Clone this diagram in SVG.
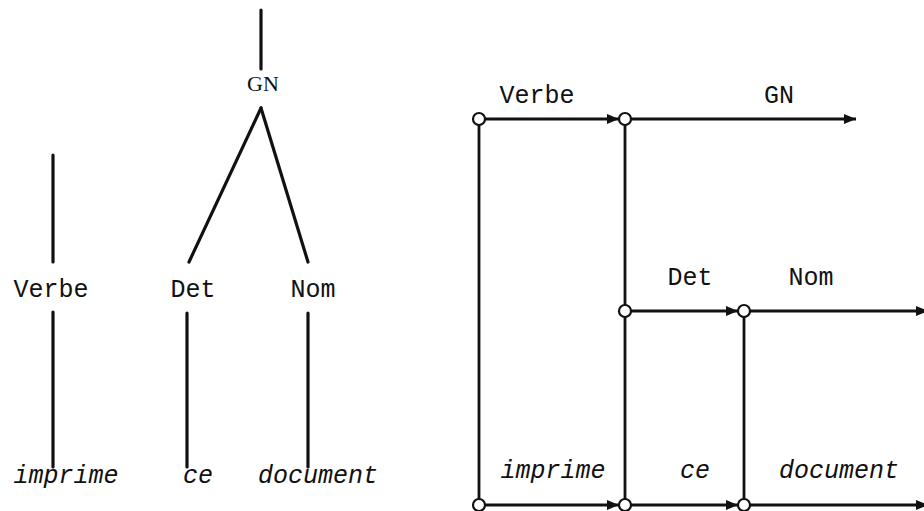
<svg xmlns="http://www.w3.org/2000/svg" width="924" height="511" viewBox="0 0 924 511">
<style>
.m{font-family:"Liberation Mono","Courier New",monospace;font-size:25px;fill:#111;text-anchor:middle}
.i{font-style:italic}
.s{font-family:"Liberation Serif","Times New Roman",serif;font-size:22px;fill:#111;text-anchor:middle}
.t{stroke:#111;stroke-width:3.2;fill:none;stroke-linecap:round}
.e{stroke:#111;stroke-width:2.8;fill:none}
.n{fill:#fff;stroke:#111;stroke-width:2.2}
</style>
<defs>
<marker id="ah" viewBox="0 0 12 10" refX="12" refY="5" markerWidth="12" markerHeight="10" markerUnits="userSpaceOnUse" orient="auto">
<path d="M0,0 L12,5 L0,10 Z" fill="#111"/>
</marker>
</defs>
<rect width="924" height="511" fill="#fff"/>
<g id="tree">
<g id="t-gn"><line class="t" x1="261" y1="10" x2="261" y2="69"/><text class="s" x="263" y="91">GN</text></g>
<g id="t-gn-edges"><line class="t" x1="261" y1="108" x2="189" y2="262"/><line class="t" x1="261" y1="108" x2="308" y2="262"/></g>
<g id="t-verbe"><line class="t" x1="53" y1="155" x2="53" y2="262"/><text class="m" x="51" y="297">Verbe</text><line class="t" x1="53" y1="312" x2="53" y2="467"/><text class="m i" x="66" y="483">imprime</text></g>
<g id="t-det"><text class="m" x="193" y="297">Det</text><line class="t" x1="187" y1="313" x2="187" y2="467"/><text class="m i" x="198" y="483">ce</text></g>
<g id="t-nom"><text class="m" x="313" y="297">Nom</text><line class="t" x1="308" y1="313" x2="308" y2="467"/><text class="m i" x="318" y="483">document</text></g>
</g>
<g id="connectors">
<line class="e" x1="479" y1="119" x2="479" y2="505"/>
<line class="e" x1="625" y1="119" x2="625" y2="505"/>
<line class="e" x1="744" y1="311" x2="744" y2="505"/>
<line class="e" x1="485" y1="119" x2="619" y2="119" marker-end="url(#ah)"/>
<line class="e" x1="631" y1="119" x2="856" y2="119" marker-end="url(#ah)"/>
<line class="e" x1="631" y1="311" x2="738" y2="311" marker-end="url(#ah)"/>
<line class="e" x1="750" y1="311" x2="928" y2="311" marker-end="url(#ah)"/>
<line class="e" x1="485" y1="505" x2="619" y2="505" marker-end="url(#ah)"/>
<line class="e" x1="631" y1="505" x2="738" y2="505" marker-end="url(#ah)"/>
<line class="e" x1="750" y1="505" x2="928" y2="505" marker-end="url(#ah)"/>
</g>
<g id="labels">
<text class="m" x="537" y="103">Verbe</text>
<text class="m" x="779" y="103">GN</text>
<text class="m" x="690" y="285">Det</text>
<text class="m" x="811" y="285">Nom</text>
<text class="m i" x="553" y="478">imprime</text>
<text class="m i" x="695" y="478">ce</text>
<text class="m i" x="839" y="478">document</text>
</g>
<g id="n1"><circle class="n" cx="479" cy="119" r="6"/></g>
<g id="n2"><circle class="n" cx="625" cy="119" r="6"/></g>
<g id="n3"><circle class="n" cx="625" cy="311" r="6"/></g>
<g id="n4"><circle class="n" cx="744" cy="311" r="6"/></g>
<g id="n5"><circle class="n" cx="479" cy="505" r="6"/></g>
<g id="n6"><circle class="n" cx="625" cy="505" r="6"/></g>
<g id="n7"><circle class="n" cx="744" cy="505" r="6"/></g>
</svg>
